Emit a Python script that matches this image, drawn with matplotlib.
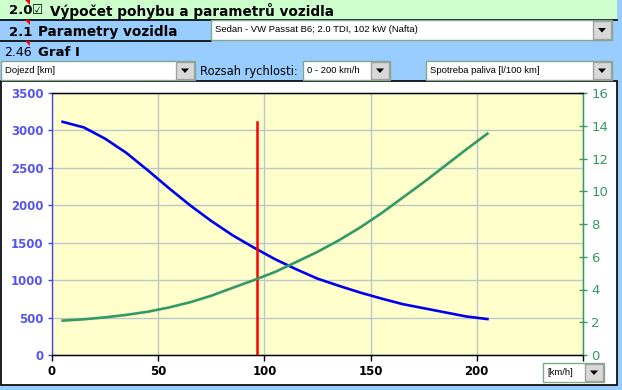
"""
graf I - dojezd a spotreba
"""
import numpy as np
import matplotlib
matplotlib.use('Agg')
import matplotlib.pyplot as plt
from matplotlib.patches import Rectangle, Polygon
# ------------------------Data--------------------------------------------------
speed = [5, 15, 25, 35, 45, 55, 65, 75, 85, 95, 105,
         115, 125, 135, 145, 155, 165, 175, 185, 195, 205]
dojezd = [3115, 3040, 2890, 2700, 2470, 2230, 2000, 1790, 1600, 1435, 1280,
          1145, 1020, 925, 835, 755, 680, 625, 570, 515, 480]
spotreba = [2.10, 2.18, 2.30, 2.45, 2.64, 2.90, 3.22, 3.62, 4.10, 4.57, 5.07,
            5.68, 6.30, 7.00, 7.78, 8.65, 9.60, 10.55, 11.55, 12.55, 13.52]
marker_speed = 96.5
marker_top = 3115
xticks = [0, 50, 100, 150, 200, 250]
xticklabels = ['0', '50', '100', '150', '200', '']
yticks_l = [0, 500, 1000, 1500, 2000, 2500, 3000, 3500]
yticks_r = [0, 2, 4, 6, 8, 10, 12, 14, 16]
# ------------------------------------------------------------------------------
W, H = 622, 390
BLUE_BG = '#99ccff'
GREEN_BG = '#ccffcc'

fig = plt.figure(figsize=(W/100, H/100), dpi=100)
fig.patch.set_facecolor(BLUE_BG)

def box(x0, y0, x1, y1, fc, ec='none', lw=1, z=1):
    fig.patches.append(Rectangle((x0/W, 1-y1/H), (x1-x0)/W, (y1-y0)/H,
                                 transform=fig.transFigure, fc=fc, ec=ec,
                                 lw=lw, zorder=z))

def txt(x, y, s, **kw):
    fig.text(x/W, 1-y/H, s, va='center', **kw)

def tri(x, y):
    # red comment marker
    fig.patches.append(Polygon([(x/W, 1-y/H), ((x+5)/W, 1-y/H), ((x+5)/W, 1-(y+5)/H)],
                               closed=True, transform=fig.transFigure,
                               fc='red', ec='none', zorder=3))

def dropdown(x0, y0, x1, y1, s):
    box(x0, y0, x1, y1, 'white', '#7fa98a', 1, 2)
    box(x1-19, y0+1, x1-1, y1-1, '#d8d8d8', '#a0a0a0', 1, 3)
    cx, cy = x1-10, (y0+y1)/2
    fig.patches.append(Polygon([((cx-4)/W, 1-(cy-2)/H), ((cx+4)/W, 1-(cy-2)/H),
                                (cx/W, 1-(cy+2.5)/H)], closed=True,
                               transform=fig.transFigure, fc='black', zorder=4))
    txt(x0+4, (y0+y1)/2, s, fontsize=6.8, family='Liberation Sans', zorder=4)

# header rows
box(0, 0, 617, 19, GREEN_BG, z=1)
fig.add_artist(plt.Line2D([0, 617/W], [1-19.5/H, 1-19.5/H], color='black', lw=1.2))
fig.add_artist(plt.Line2D([0, 211/W], [1-40.5/H, 1-40.5/H], color='black', lw=1.2))
txt(9, 11, '2.0', fontsize=9.5, weight='bold')
tri(25, 0)
txt(32, 10.5, '\u2611', fontsize=9)
txt(50, 11, 'Výpočet pohybu a parametrů vozidla', fontsize=9.8, weight='bold')
txt(9, 32, '2.1', fontsize=9.5, weight='bold')
tri(25, 20)
txt(38, 32, 'Parametry vozidla', fontsize=9.8, weight='bold')
dropdown(211, 20, 612, 40, 'Sedan - VW Passat B6; 2.0 TDI, 102 kW (Nafta)')
txt(4, 52, '2.46', fontsize=9)
tri(25, 41)
txt(38, 52, 'Graf I', fontsize=9.5, weight='bold')
dropdown(1, 61, 195, 80, 'Dojezd [km]')
txt(200, 72, 'Rozsah rychlosti:', fontsize=8.3)
dropdown(303, 61, 390, 80, '0 - 200 km/h')
dropdown(426, 61, 612, 80, 'Spotreba paliva [l/100 km]')

# chart panel
box(0.5, 81, 617, 385, 'white', 'black', 1.2, -1)
dropdown(543, 363, 604, 382, '[km/h]')

# ------------------------Plot--------------------------------------------------
ax = fig.add_axes([52/W, 1-355/H, (583-52)/W, (355-93)/H])
ax.set_facecolor('#ffffcc')
ax.plot(speed, dojezd, color='#0000ee', lw=1.9, zorder=3)
ax.plot([marker_speed, marker_speed], [0, marker_top], color='#ff0000', lw=1.8, zorder=4)
ax.set_xlim(0, 250)
ax.set_ylim(0, 3500)
ax.set_xticks(xticks)
ax.set_xticklabels(xticklabels, fontsize=8.5, weight='bold')
ax.set_yticks(yticks_l)
ax.set_yticklabels([str(v) for v in yticks_l], fontsize=8.5, weight='bold', color='#5555ee')
ax.grid(True, color='#bcc8c8', lw=1)
ax.set_axisbelow(True)
ax.tick_params(axis='x', length=4, width=1, pad=3)
ax.tick_params(axis='y', length=3, width=1, color='#4444ee', pad=3)
ax.spines['left'].set_color('#4444ee')
ax.spines['right'].set_color('#339966')
for s in ax.spines.values():
    s.set_linewidth(1)

ax2 = ax.twinx()
ax2.plot(speed, spotreba, color='#339966', lw=1.9, zorder=3)
ax2.set_ylim(0, 16)
ax2.set_yticks(yticks_r)
ax2.set_yticklabels([str(v) for v in yticks_r], fontsize=9.5, color='#339966')
ax2.tick_params(axis='y', direction='inout', length=6, width=1, color='#339966', pad=3)
ax2.spines['right'].set_color('#339966')
ax2.spines['left'].set_visible(False)

plt.savefig('out.png', dpi=100, facecolor=fig.get_facecolor())
